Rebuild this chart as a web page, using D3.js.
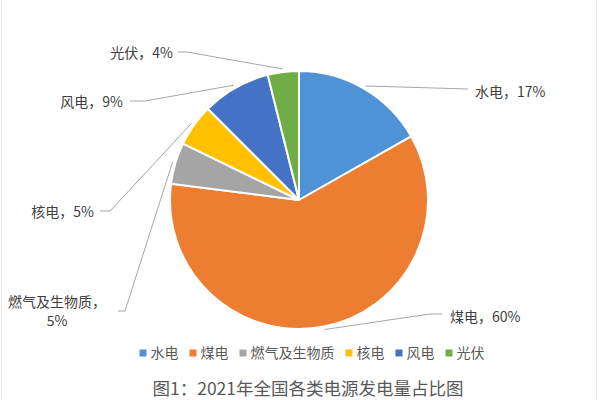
<!DOCTYPE html>
<html><head><meta charset="utf-8">
<script src="https://cdn.jsdelivr.net/npm/d3@7"></script>
<style>body{margin:0;background:#fff}svg{display:block}text{font-family:"Noto Sans CJK SC","Noto Sans",sans-serif}</style>
</head><body><svg id="c" width="600" height="400"></svg>
<script>
const categories = ["水电","煤电","燃气及生物质","核电","风电","光伏"];
const values = [16.8, 60.2, 5.2, 5.3, 8.6, 3.9];
const pctLabels = ["17%","60%","5%","5%","9%","4%"];
const colors = ["#4e93d6","#ed7d31","#a5a5a5","#ffc000","#4472c4","#70ad47"];
const title = "图1：2021年全国各类电源发电量占比图";

const svg = d3.select("#c");
const W = 600, H = 400, cx = 299, cy = 200, R = 129;
svg.append("rect").attr("width",W).attr("height",H).attr("fill","#fff");
svg.append("line").attr("x1",1.5).attr("x2",1.5).attr("y1",0).attr("y2",H).attr("stroke","#e8e8e8");
svg.append("line").attr("x1",596.5).attr("x2",596.5).attr("y1",0).attr("y2",H).attr("stroke","#ececec");

const data = categories.map((c,i)=>({cat:c, v:values[i], pct:pctLabels[i], color:colors[i]}));
const pie = d3.pie().value(d=>d.v).sort(null);
const arcs = pie(data);
const arc = d3.arc().innerRadius(0).outerRadius(R);
const g = svg.append("g").attr("transform",`translate(${cx},${cy})`);
g.selectAll("path").data(arcs).join("path")
  .attr("d",arc).attr("fill",d=>d.data.color)
  .attr("stroke","#fff").attr("stroke-width",2).attr("stroke-linejoin","round");

// label layout (absolute page positions)
const layout = [
  {tx:475, ty:92, anchor:"start", ex:468, ey:89, bx:468},
  {tx:450, ty:317, anchor:"start", ex:442, ey:314, bx:430},
  {tx:57, ty:302, anchor:"middle", ex:118, ey:311, bx:125, two:true},
  {tx:94, ty:212, anchor:"end", ex:100, ey:211, bx:110},
  {tx:123, ty:102, anchor:"end", ex:130, ey:101, bx:145},
  {tx:173, ty:53, anchor:"end", ex:178, ey:52, bx:187}
];
arcs.forEach((a,i)=>{
  const L = layout[i];
  const mid = (a.startAngle+a.endAngle)/2;
  const p = d3.pointRadial(mid, R+3);
  const pts = [[cx+p[0], cy+p[1]], [L.bx, L.ey], [L.ex, L.ey]];
  svg.append("path").attr("d", d3.line()(pts)).attr("fill","none")
    .attr("stroke","#a6a6a6").attr("stroke-width",1);
  if (L.two) {
    svg.append("text").attr("x",L.tx).attr("y",L.ty).attr("dy","0.35em")
      .attr("text-anchor",L.anchor).attr("font-size",14).attr("fill","#404040")
      .text(a.data.cat+"，");
    svg.append("text").attr("x",L.tx).attr("y",L.ty+19).attr("dy","0.35em")
      .attr("text-anchor",L.anchor).attr("font-size",14).attr("fill","#404040")
      .text(a.data.pct);
  } else {
    svg.append("text").attr("x",L.tx).attr("y",L.ty).attr("dy","0.35em")
      .attr("text-anchor",L.anchor).attr("font-size",14).attr("fill","#404040")
      .text(a.data.cat+"，"+a.data.pct);
  }
});

// legend
const lg = svg.append("g");
let x = 135;
const ly = 353;
data.forEach(d=>{
  lg.append("rect").attr("x",x).attr("y",ly-3.5).attr("width",7).attr("height",7).attr("fill",d.color);
  const t = lg.append("text").attr("x",x+11).attr("y",ly).attr("dy","0.35em")
    .attr("font-size",14).attr("fill","#595959").text(d.cat);
  x += 11 + t.node().getComputedTextLength() + 11;
});
const lw = x - 11 - 135;
lg.attr("transform",`translate(${(312 - lw/2) - 135},0)`);

svg.append("text").attr("x",308).attr("y",389).attr("dy","0.35em").attr("text-anchor","middle")
  .attr("font-size",17.5).attr("fill","#595959").text(title);
</script></body></html>
